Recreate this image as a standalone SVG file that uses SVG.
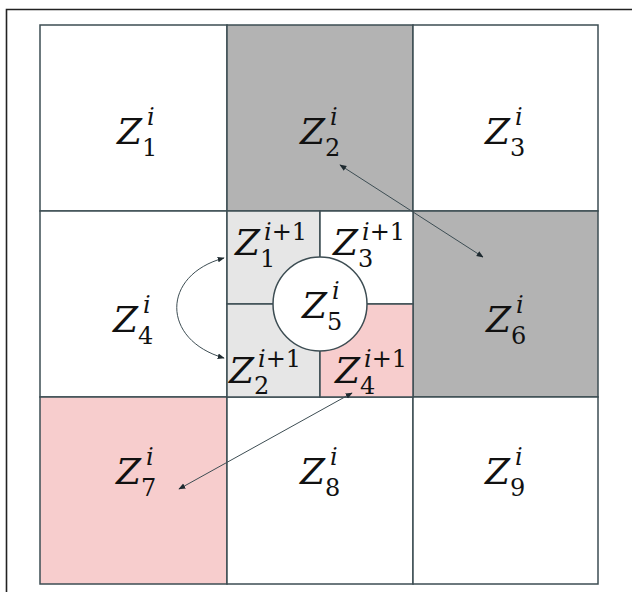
<svg xmlns="http://www.w3.org/2000/svg" width="632" height="592" viewBox="0 0 632 592">
<style>
.cell{stroke:#3d4d53;stroke-width:1.5}
.z{font-family:"DejaVu Serif","Liberation Serif",serif;font-style:italic;font-size:36px;fill:#111}
.s{font-family:"DejaVu Serif","Liberation Serif",serif;font-size:24px;fill:#111}
.it{font-style:italic}
.con{fill:none;stroke:#3d4d53;stroke-width:1}
</style>
<defs>
<marker id="ah" viewBox="0 0 10 10" refX="9" refY="5" markerWidth="7" markerHeight="7" markerUnits="userSpaceOnUse" orient="auto-start-reverse">
<path d="M0,1 L10,5 L0,9 Z" fill="#1e2a30"/>
</marker>
</defs>
<rect width="632" height="592" fill="#fff"/>
<path d="M6.5,592 V9.5 H632" fill="none" stroke="#222" stroke-width="1.6"/>
<g id="grid">
<rect id="c1" class="cell" x="40" y="25" width="187" height="186" fill="#fff"/>
<rect id="c2" class="cell" x="227" y="25" width="186" height="186" fill="#b3b3b3"/>
<rect id="c3" class="cell" x="413" y="25" width="185" height="186" fill="#fff"/>
<rect id="c4" class="cell" x="40" y="211" width="187" height="186" fill="#fff"/>
<rect id="c6" class="cell" x="413" y="211" width="185" height="186" fill="#b3b3b3"/>
<rect id="c7" class="cell" x="40" y="397" width="187" height="187" fill="#f7cdcd"/>
<rect id="c8" class="cell" x="227" y="397" width="186" height="187" fill="#fff"/>
<rect id="c9" class="cell" x="413" y="397" width="185" height="187" fill="#fff"/>
<rect id="s1" class="cell" x="227" y="211" width="93" height="93" fill="#e6e6e6"/>
<rect id="s3" class="cell" x="320" y="211" width="93" height="93" fill="#fff"/>
<rect id="s2" class="cell" x="227" y="304" width="93" height="93" fill="#e6e6e6"/>
<rect id="s4" class="cell" x="320" y="304" width="93" height="93" fill="#f7cdcd"/>
<circle id="c5" class="cell" cx="320" cy="304" r="47" fill="#fff"/>
</g>
<g id="labels">
<g id="L1"><text class="z" x="117" y="144">Z</text><text class="s" x="142" y="156">1</text><text class="s it" x="147" y="125">i</text></g>
<g id="L2"><text class="z" x="300" y="144">Z</text><text class="s" x="325" y="156">2</text><text class="s it" x="330" y="125">i</text></g>
<g id="L3"><text class="z" x="485" y="144">Z</text><text class="s" x="510" y="156">3</text><text class="s it" x="515" y="125">i</text></g>
<g id="L4"><text class="z" x="113" y="332">Z</text><text class="s" x="138" y="344">4</text><text class="s it" x="143" y="313">i</text></g>
<g id="L6"><text class="z" x="486" y="332">Z</text><text class="s" x="511" y="344">6</text><text class="s it" x="516" y="313">i</text></g>
<g id="L7"><text class="z" x="116" y="484">Z</text><text class="s" x="141" y="496">7</text><text class="s it" x="146" y="465">i</text></g>
<g id="L8"><text class="z" x="300" y="484">Z</text><text class="s" x="325" y="496">8</text><text class="s it" x="330" y="465">i</text></g>
<g id="L9"><text class="z" x="485" y="484">Z</text><text class="s" x="510" y="496">9</text><text class="s it" x="515" y="465">i</text></g>
<g id="L5"><text class="z" x="302" y="318">Z</text><text class="s" x="327" y="330">5</text><text class="s it" x="332" y="299">i</text></g>
<g id="M1"><text class="z" x="235" y="255">Z</text><text class="s" x="260" y="267">1</text><text class="s" x="264" y="240"><tspan class="it">i</tspan>+1</text></g>
<g id="M3"><text class="z" x="333" y="255">Z</text><text class="s" x="358" y="267">3</text><text class="s" x="362" y="240"><tspan class="it">i</tspan>+1</text></g>
<g id="M2"><text class="z" x="229" y="383">Z</text><text class="s" x="254" y="394">2</text><text class="s" x="258" y="367"><tspan class="it">i</tspan>+1</text></g>
<g id="M4"><text class="z" x="335" y="383">Z</text><text class="s" x="360" y="394">4</text><text class="s" x="364" y="367"><tspan class="it">i</tspan>+1</text></g>
</g>
<g id="connectors">
<path class="con" d="M340,165 L483,257" marker-start="url(#ah)" marker-end="url(#ah)"/>
<path class="con" d="M352,393 L179,489" marker-start="url(#ah)" marker-end="url(#ah)"/>
<path class="con" d="M224,258 C161,275 161,340 224,358" marker-start="url(#ah)" marker-end="url(#ah)"/>
</g>
</svg>
